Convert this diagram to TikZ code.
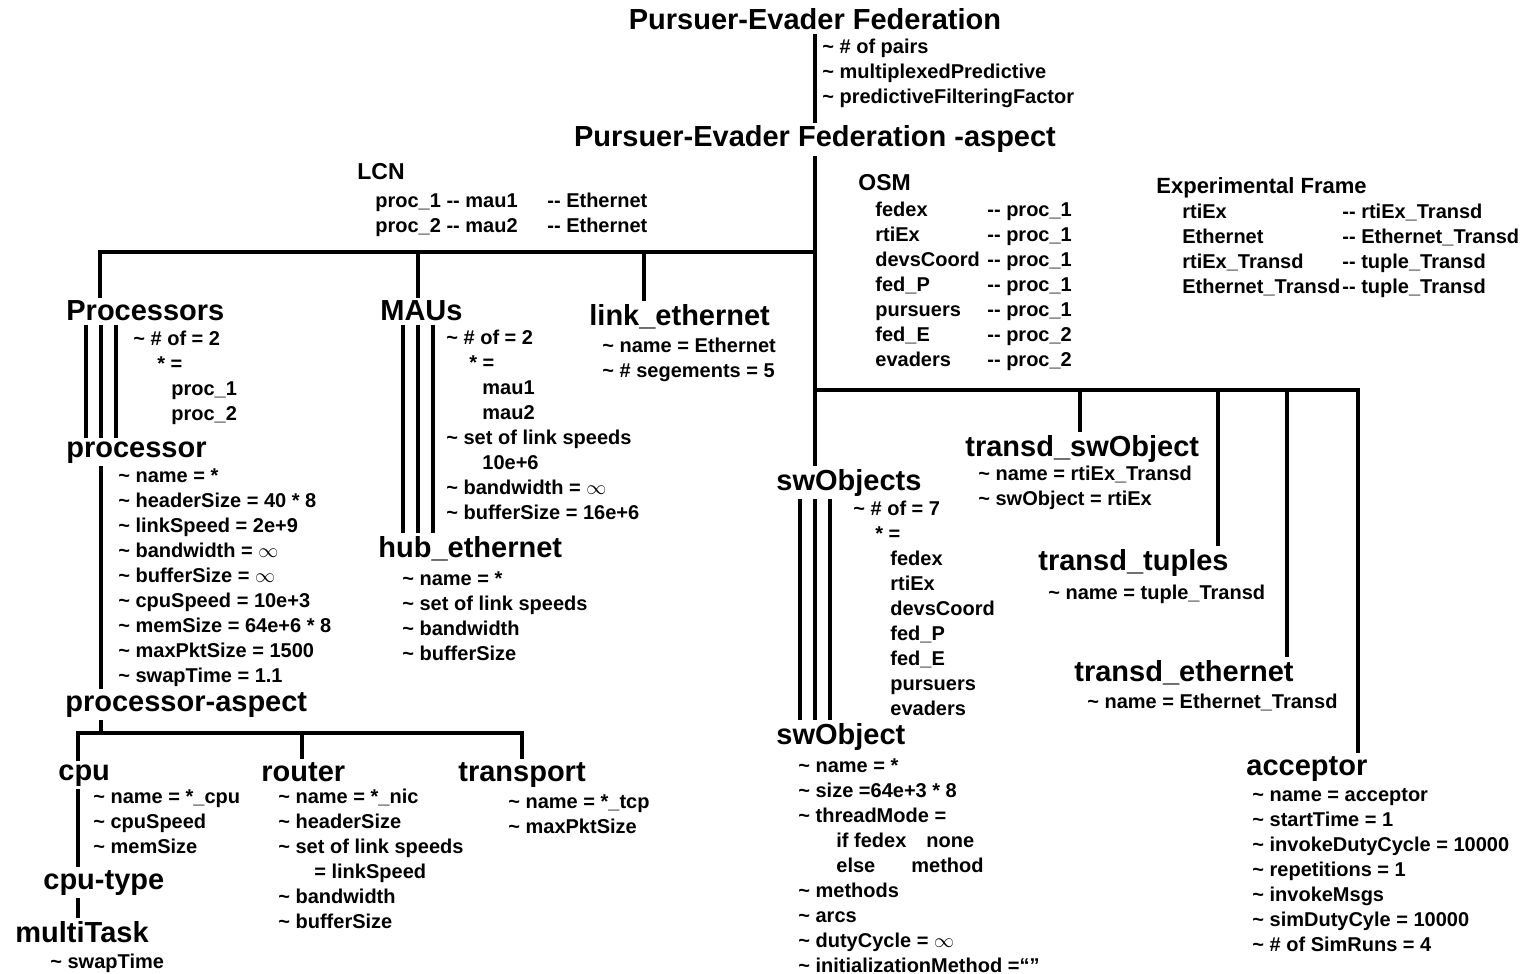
\documentclass[tikz,border=0pt]{standalone}
\usepackage{fontspec}
\setmainfont{Liberation Sans}
\usetikzlibrary{calc}
\newcommand{\tld}{\textasciitilde\ }
\newcommand{\lk}{-{}-}

\begin{document}
\begin{tikzpicture}[x=.5pt,y=-.5pt,
ent/.style={anchor=base west,inner sep=1.5pt,font=\bfseries\fontsize{14.5}{17}\selectfont},
hd/.style={anchor=base west,inner sep=0pt,font=\bfseries\fontsize{11.5}{14}\selectfont},
att/.style={anchor=north west,yshift=6.5pt,align=left,inner sep=0pt,execute at begin node=\rule{0pt}{7.5pt},font=\bfseries\fontsize{10}{12.5}\selectfont},
bar/.style={line width=2.4pt},tri/.style={line width=2pt}]
\useasboundingbox(0,0)rectangle(1533,974);
% federation and its aspect
\node[ent,anchor=base](pef)at(815,30){Pursuer-Evader Federation};
\node[att](pefat)at(822,52){\tld\# of pairs\\\tld multiplexedPredictive\\\tld predictiveFilteringFactor};
\node[ent,anchor=base](pefa)at(815,147){Pursuer-Evader Federation -aspect};
\draw[bar](pef)--(pefa);
\node[hd](lcn)at(357,180){LCN};
\node[att](lcnat)at(375,206){\makebox[86pt][l]{proc\_1 \lk{} mau1}\lk{} Ethernet\\\makebox[86pt][l]{proc\_2 \lk{} mau2}\lk{} Ethernet};
\node[hd](osm)at(858,191){OSM};
\node[att](osmat)at(875,215){\makebox[56pt][l]{fedex}\lk{} proc\_1\\\makebox[56pt][l]{rtiEx}\lk{} proc\_1\\\makebox[56pt][l]{devsCoord}\lk{} proc\_1\\\makebox[56pt][l]{fed\_P}\lk{} proc\_1\\\makebox[56pt][l]{pursuers}\lk{} proc\_1\\\makebox[56pt][l]{fed\_E}\lk{} proc\_2\\\makebox[56pt][l]{evaders}\lk{} proc\_2};
\node[hd,font=\bfseries\fontsize{11}{13}\selectfont](ef)at(1156,194){Experimental Frame};
\node[att](efat)at(1182,217){\makebox[80pt][l]{rtiEx}\lk{} rtiEx\_Transd\\\makebox[80pt][l]{Ethernet}\lk{} Ethernet\_Transd\\\makebox[80pt][l]{rtiEx\_Transd}\lk{} tuple\_Transd\\\makebox[80pt][l]{Ethernet\_Transd}\lk{} tuple\_Transd};
% processors branch
\node[ent](procs)at(63,321){Processors};
\node[att](procsat)at(133,344){\tld\# of = 2\\\hspace*{12pt}* =\\\hspace*{19pt}proc\_1\\\hspace*{19pt}proc\_2};
\node[ent](proc)at(63,457){processor};
\node[att](procat)at(118,481){\tld name = *\\\tld headerSize = 40 * 8\\\tld linkSpeed = 2e+9\\\tld bandwidth = $\infty$\\\tld bufferSize = $\infty$\\\tld cpuSpeed = 10e+3\\\tld memSize = 64e+6 * 8\\\tld maxPktSize = 1500\\\tld swapTime = 1.1};
\node[ent](proca)at(62,711){processor-aspect};
\node[ent](cpu)at(55,780){cpu};
\node[att](cpuat)at(93,802){\tld name = *\_cpu\\\tld cpuSpeed\\\tld memSize};
\node[ent](cput)at(40,889){cpu-type};
\node[ent](mtask)at(12,942){multiTask};
\node[att](mtaskat)at(50,966){\tld swapTime};
\node[ent](rtr)at(258,781){router};
\node[att](rtrat)at(278,802){\tld name = *\_nic\\\tld headerSize\\\tld set of link speeds\\\hspace*{18pt}= linkSpeed\\\tld bandwidth\\\tld bufferSize};
\node[ent](trn)at(455,781){transport};
\node[att](trnat)at(508,807){\tld name = *\_tcp\\\tld maxPktSize};
% network branch
\node[ent](maus)at(377,321){MAUs};
\node[att](mausat)at(446,343){\tld\# of = 2\\\hspace*{11.5pt}* =\\\hspace*{18pt}mau1\\\hspace*{18pt}mau2\\\tld set of link speeds\\\hspace*{18pt}10e+6\\\tld bandwidth = $\infty$\\\tld bufferSize = 16e+6};
\node[ent](hub)at(375,557){hub\_ethernet};
\node[att](hubat)at(402,584){\tld name = *\\\tld set of link speeds\\\tld bandwidth\\\tld bufferSize};
\node[ent](lnk)at(586,325){link\_ethernet};
\node[att](lnkat)at(602,351){\tld name = Ethernet\\\tld\# segements = 5};
% software objects
\node[ent](swobjs)at(773,490){swObjects};
\node[att](swobjsat)at(853,514){\tld\# of = 7\\\hspace*{11pt}* =\\\hspace*{18.5pt}fedex\\\hspace*{18.5pt}rtiEx\\\hspace*{18.5pt}devsCoord\\\hspace*{18.5pt}fed\_P\\\hspace*{18.5pt}fed\_E\\\hspace*{18.5pt}pursuers\\\hspace*{18.5pt}evaders};
\node[ent](swobj)at(773,744){swObject};
\node[att](swobjat)at(798,771){\tld name = *\\\tld size =64e+3 * 8\\\tld threadMode =\\\hspace*{19pt}\makebox[45pt][l]{if fedex}none\\\hspace*{19pt}\makebox[37.5pt][l]{else}method\\\tld methods\\\tld arcs\\\tld dutyCycle = $\infty$\\\tld initializationMethod =\textquotedblleft\textquotedblright};
% experimental frame
\node[ent](tsw)at(962,456){transd\_swObject};
\node[att](tswat)at(978,479){\tld name = rtiEx\_Transd\\\tld swObject = rtiEx};
\node[ent](ttp)at(1035,570){transd\_tuples};
\node[att](ttpat)at(1048,597){\tld name = tuple\_Transd};
\node[ent](teth)at(1071,681){transd\_ethernet};
\node[att](tethat)at(1087,706){\tld name = Ethernet\_Transd};
\node[ent](acc)at(1243,775){acceptor};
\node[att](accat)at(1252,801){\tld name = acceptor\\\tld startTime = 1\\\tld invokeDutyCycle = 10000\\\tld repetitions = 1\\\tld invokeMsgs\\\tld simDutyCyle = 10000\\\tld\# of SimRuns = 4};
% bars and ticks
\coordinate(lcnl)at(100,252);\coordinate(lcnr)at(815,252);\coordinate(maut)at(418,252);\coordinate(lnkt)at(644,252);
\coordinate(efl)at(815,390);\coordinate(efr)at(1358,390);\coordinate(tswt)at(1080,390);\coordinate(ttpt)at(1218,390);\coordinate(tetht)at(1287,390);
\coordinate(pat)at(101,733);\coordinate(pal)at(78,733);\coordinate(par)at(522,733);\coordinate(rtrt)at(302,733);
\draw[bar](pefa)--(pefa|-swobjs.north);
\draw[bar](lcnl|-procs.north)--(lcnl)--(lcnr);\draw[bar](maut)--(maut|-maus.north);\draw[bar](lnkt)--(lnkt|-lnk.north);
\draw[bar](efl)--(efr)--(efr|-acc.north);\draw[bar](tswt)--(tswt|-tsw.north);\draw[bar](ttpt)--(ttpt|-ttp.north);\draw[bar](tetht)--(tetht|-teth.north);
\foreach\d in{-15,0,15}{\draw[tri]($(pat|-procs.south)+(\d,0)$)--($(pat|-proc.north)+(\d,0)$);\draw[tri]($(maut|-maus.south)+(\d,0)$)--($(maut|-hub.north)+(\d,0)$);\draw[tri]($(efl|-swobjs.south)+(\d,0)$)--($(efl|-swobj.north)+(\d,0)$);}
\draw[bar](pat|-proc.south)--(pat|-proca.north);\draw[bar](pat|-proca.south)--(pat);
\draw[bar](pal|-cpu.north)--(pal)--(par)--(par|-trn.north);\draw[bar](rtrt)--(rtrt|-rtr.north);
\draw[bar](pal|-cpu.south)--(pal|-cput.north);\draw[bar](pal|-cput.south)--(pal|-mtask.north);
\end{tikzpicture}
\end{document}
